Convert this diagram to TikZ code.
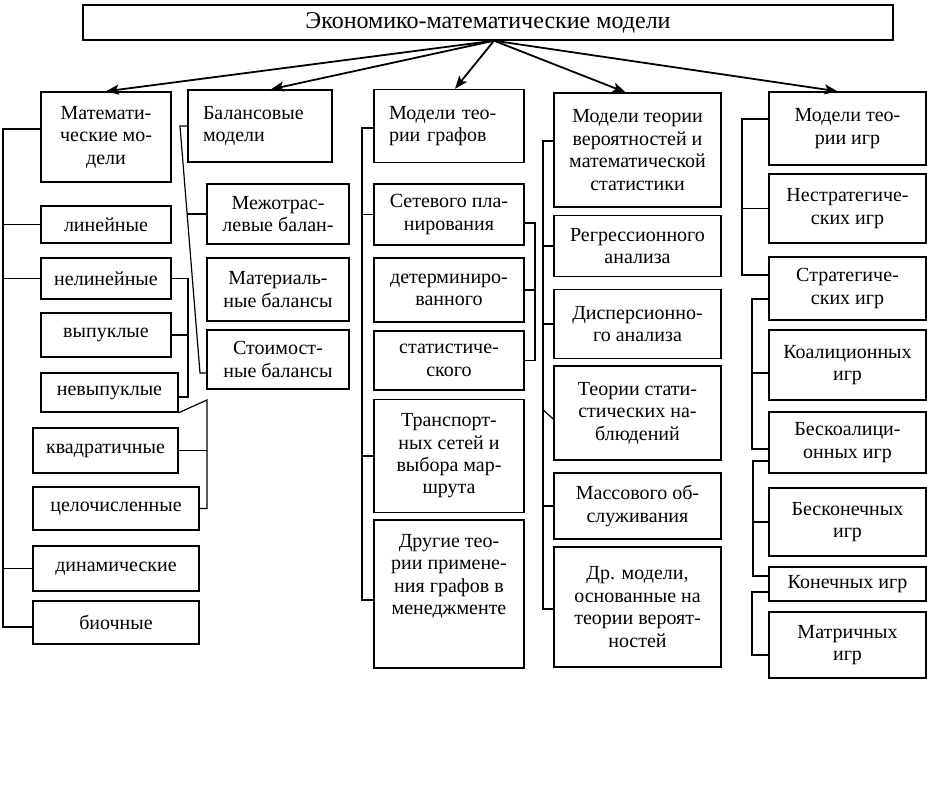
\documentclass[tikz,border=0pt]{standalone}
\usepackage{fontspec}
\setmainfont{Liberation Serif}
\usetikzlibrary{arrows.meta}
\tikzset{>={Stealth[length=6.5pt,width=5pt,inset=1.5pt]}}
\tikzset{
  box/.style={draw, line width=0.7pt, align=center, inner sep=1pt, font=\fontsize{10}{11.2}\selectfont},
  sz/.style 2 args={minimum width=#1*0.5pt, minimum height=#2*0.5pt},
  link/.style={line width=0.6pt},
  arr/.style={->, line width=0.9pt}
}

\begin{document}
\begin{tikzpicture}[x=0.5pt,y=-0.5pt]
    \useasboundingbox (0,0) rectangle (927,790);

    \node [box, sz={810}{35}, font=\fontsize{12}{14}\selectfont] (top) at (488,22.5) {Экономико-математические модели};

    % mathematical models
    \node [box, sz={130}{90}] (mat) at (106,137) {Математи-\\ческие мо-\\дели};
    \node [box, sz={130}{37}] (lin) at (106,224.5) {линейные};
    \node [box, sz={130}{41}] (nelin) at (106,278.5) {нелинейные};
    \node [box, sz={130}{44}] (vyp) at (106,335) {выпуклые};
    \node [box, sz={137}{39}] (nevyp) at (109.5,392.5) {невыпуклые};
    \node [box, sz={145}{45}] (kvad) at (105.5,450.5) {квадратичные};
    \node [box, sz={166}{43}] (celo) at (116,508.5) {целочисленные};
    \node [box, sz={166}{45}] (dinam) at (116,568.5) {динамические};
    \node [box, sz={166}{43}] (bioch) at (116,622.5) {биочные};

    % balance models
    \node [box, sz={144}{72}, text width=57pt, inner xsep=7.5pt, align=left] (bal) at (260,126) {Балансовые\\модели};
    \node [box, sz={142}{60}] (mezh) at (278,214) {Межотрас-\\левые балан-};
    \node [box, sz={142}{63}] (mater) at (278,289.5) {Материаль-\\ные балансы};
    \node [box, sz={142}{59}] (stoim) at (278,359.5) {Стоимост-\\ные балансы};

    % graph models
    \node [box, sz={150}{73}, text width=60pt, inner xsep=7.5pt, align=left] (gr) at (449,126) {Модели тео-\\рии графов};
    \node [box, sz={150}{61}] (set) at (449,214.5) {Сетевого пла-\\нирования};
    \node [box, sz={150}{64}] (det) at (449,290) {детерминиро-\\ванного};
    \node [box, sz={150}{59}] (stat) at (449,360.5) {статистиче-\\ского};
    \node [box, sz={150}{113}] (trans) at (449,456) {Транспорт-\\ных сетей и\\выбора мар-\\шрута};
    \node [box, sz={150}{148}, label={[align=center, anchor=north, yshift=-4pt, font=\fontsize{10}{11.2}\selectfont]north:{Другие тео-\\рии примене-\\ния графов в\\менеджменте}}] (drug) at (449,594) {};

    % probability models
    \node [box, sz={167}{114}] (pr) at (637.5,150) {Модели теории\\вероятностей и\\математической\\статистики};
    \node [box, sz={167}{61}] (regr) at (637.5,246) {Регрессионного\\анализа};
    \node [box, sz={167}{69}] (disp) at (637.5,324) {Дисперсионно-\\го анализа};
    \node [box, sz={167}{94}] (teor) at (637.5,413) {Теории стати-\\стических на-\\блюдений};
    \node [box, sz={167}{66}] (mass) at (637.5,506) {Массового об-\\служивания};
    \node [box, sz={167}{120}] (dr) at (637.5,607) {Др. модели,\\основанные на\\теории вероят-\\ностей};

    % game models
    \node [box, sz={157}{73}] (ig) at (847.5,128.5) {Модели тео-\\рии игр};
    \node [box, sz={157}{69}] (nestr) at (847.5,208.5) {Нестратегиче-\\ских игр};
    \node [box, sz={157}{63}] (str) at (847.5,288.5) {Стратегиче-\\ских игр};
    \node [box, sz={157}{70}] (koal) at (847.5,365) {Коалиционных\\игр};
    \node [box, sz={157}{61}] (beskoal) at (847.5,442.5) {Бескоалици-\\онных игр};
    \node [box, sz={157}{68}] (beskon) at (847.5,522) {Бесконечных\\игр};
    \node [box, sz={157}{34}] (kon) at (847.5,584) {Конечных игр};
    \node [box, sz={157}{66}] (matr) at (847.5,645) {Матричных\\игр};

    % arrows from the top
    \coordinate (src) at ([xshift=3pt]top.south);
    \foreach \n/\dx in {mat/0,bal/5.5,gr/3,pr/-6,ig/-5}
      \draw [arr] (src) -- ([xshift=\dx pt]\n.north);

    % left trunk
    \coordinate (L1) at (3,129);
    \coordinate (L1b) at (3,627);
    \draw [link] (mat.west |- L1) -- (L1) -- (L1b) -- (bioch.west |- L1b);
    \foreach \n in {lin,nelin,dinam}
      \draw [link] (\n.west) -- (\n.west -| L1);

    \coordinate (R1b) at (188,397);
    \draw [link] (nelin.east) -| (R1b) -- (nevyp.east |- R1b);
    \draw [link] (vyp.east) -- (vyp.east -| R1b);

    \coordinate (R2) at (207,400);
    \draw [link] (nevyp.south east) -- (R2) |- (celo.east);
    \draw [link] (kvad.east) -- (kvad.east -| R2);

    % balance bracket
    \coordinate (B1) at (180,128);
    \coordinate (B2) at (200,373);
    \coordinate (B3) at (187,213);
    \draw [link] (bal.west) -- (bal.west -| B1) -- (B2) -- (B2 -| stoim.west);
    \draw [link] (mezh.west) -- (mezh.west -| B3);

    % graph brackets
    \coordinate (G1) at (362,128);
    \coordinate (G1b) at (362,600);
    \draw [link] (gr.west |- G1) -- (G1) -- (G1b) -- (G1b -| drug.west);
    \foreach \n in {set,trans}
      \draw [link] (\n.west) -- (\n.west -| G1);
    \coordinate (G2) at (535,223);
    \draw [link] (set.east |- G2) -- (G2) |- (stat.east);
    \draw [link] (det.east) -- (det.east -| G2);

    % probability bracket
    \coordinate (P1) at (543,141);
    \coordinate (P1b) at (543,609);
    \coordinate (P2) at (543,410);
    \draw [link] (pr.west |- P1) -- (P1) -- (P1b) -- (dr.west |- P1b);
    \foreach \n in {regr,disp,mass}
      \draw [link] (\n.west) -- (\n.west -| P1);
    \draw [link] (P2) -- ([yshift=-3pt]teor.west);

    % game brackets
    \coordinate (Q1) at (742,119);
    \coordinate (Q1b) at (742,275);
    \draw [link] (ig.west |- Q1) -- (Q1) -- (Q1b) -- (str.west |- Q1b);
    \draw [link] (nestr.west) -- (nestr.west -| Q1);
    \coordinate (Q2) at (752,299);
    \coordinate (Q2b) at (752,449);
    \coordinate (Q2c) at (752,373);
    \draw [link] (str.west |- Q2) -- (Q2) -- (Q2b) -- (beskoal.west |- Q2b);
    \draw [link] (Q2c) -- (Q2c -| koal.west);
    \coordinate (Q3) at (753,461);
    \coordinate (Q3b) at (753,576);
    \draw [link] (beskoal.west |- Q3) -- (Q3) -- (Q3b) -- (kon.west |- Q3b);
    \draw [link] (beskon.west) -- (beskon.west -| Q3);
    \coordinate (Q4) at (752,592);
    \coordinate (Q4b) at (752,655);
    \draw [link] (kon.west |- Q4) -- (Q4) -- (Q4b) -- (matr.west |- Q4b);
\end{tikzpicture}
\end{document}
